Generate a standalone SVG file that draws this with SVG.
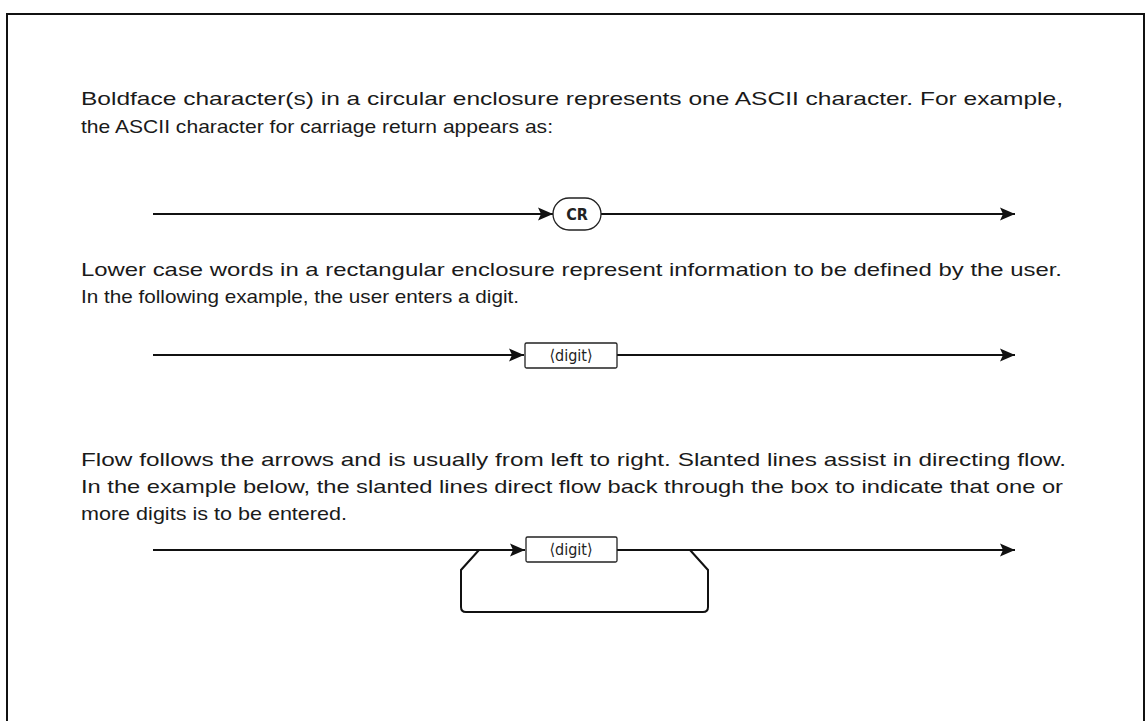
<svg xmlns="http://www.w3.org/2000/svg" width="1147" height="721" viewBox="0 0 1147 721">
<style>
.t{font-family:"Liberation Sans",Arial,sans-serif;font-size:18.5px;fill:#1a1a1a}
.ln{fill:none;stroke:#111;stroke-width:2}
.box{fill:#fff;stroke:#222;stroke-width:1.3}
.lbl{font-family:"DejaVu Sans Condensed","DejaVu Sans","Liberation Sans",sans-serif;font-size:16px;fill:#222;text-anchor:middle}
.cr{font-weight:bold;font-size:16px}
</style>
<defs>
<marker id="arr" markerUnits="userSpaceOnUse" markerWidth="16" markerHeight="14" refX="15" refY="7" orient="auto">
<path d="M0,0.5 L15,7 L0,13.5 L3,7 z" fill="#111"/>
</marker>
</defs>
<rect width="1147" height="721" fill="#fff"/>
<path class="ln" d="M7,721 V14 H1144 V721"/>
<g id="texts">
<text class="t" x="81" y="105" textLength="982" lengthAdjust="spacingAndGlyphs">Boldface character(s) in a circular enclosure represents one ASCII character. For example,</text>
<text class="t" x="81" y="133" textLength="472" lengthAdjust="spacingAndGlyphs">the ASCII character for carriage return appears as:</text>
<text class="t" x="81" y="276" textLength="981" lengthAdjust="spacingAndGlyphs">Lower case words in a rectangular enclosure represent information to be defined by the user.</text>
<text class="t" x="81" y="303" textLength="438" lengthAdjust="spacingAndGlyphs">In the following example, the user enters a digit.</text>
<text class="t" x="81" y="466" textLength="985" lengthAdjust="spacingAndGlyphs">Flow follows the arrows and is usually from left to right. Slanted lines assist in directing flow.</text>
<text class="t" x="81" y="493" textLength="982" lengthAdjust="spacingAndGlyphs">In the example below, the slanted lines direct flow back through the box to indicate that one or</text>
<text class="t" x="81" y="520" textLength="266" lengthAdjust="spacingAndGlyphs">more digits is to be entered.</text>
</g>
<g id="connectors">
<path class="ln" d="M153,214 H553" marker-end="url(#arr)"/>
<path class="ln" d="M601,214 H1015" marker-end="url(#arr)"/>
<path class="ln" d="M153,355 H524" marker-end="url(#arr)"/>
<path class="ln" d="M617,355 H1015" marker-end="url(#arr)"/>
<path class="ln" d="M153,550 H525" marker-end="url(#arr)"/>
<path class="ln" d="M617,550 H1015" marker-end="url(#arr)"/>
<path class="ln" d="M479,550 L461,570 V607 Q461,612 466,612 H703 Q708,612 708,607 V570 L690,550"/>
</g>
<g id="node-cr">
<rect class="box" x="553" y="198" width="48" height="32" rx="16" stroke-width="1.6"/>
<text class="lbl cr" x="577" y="220">CR</text>
</g>
<g id="node-digit1">
<rect class="box" x="525" y="343" width="92" height="25" rx="1.5"/>
<text class="lbl" x="571" y="361">⟨digit⟩</text>
</g>
<g id="node-digit2">
<rect class="box" x="526" y="537" width="91" height="25" rx="1.5"/>
<text class="lbl" x="571" y="555">⟨digit⟩</text>
</g>
</svg>
